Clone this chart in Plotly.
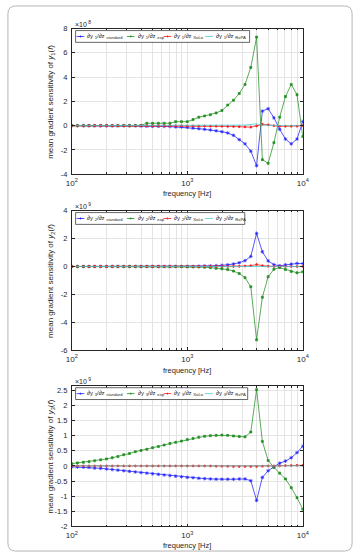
import plotly.graph_objects as go

W, H = 361, 558

# ---------------- data ----------------
freq = [100, 112, 126, 141, 158, 178, 200, 224, 251, 282,
        316, 355, 398, 447, 501, 562, 631, 708, 794, 891,
        1000, 1122, 1259, 1413, 1585, 1778, 1995, 2239, 2512, 2818,
        3162, 3548, 3981, 4467, 5012, 5623, 6310, 7079, 7943, 8913,
        10000]

# subplot 1 (x 1e8)
y1_standard = [0]*12 + [-0.03, -0.05, -0.05, -0.05, -0.06, -0.07, -0.1, -0.11, -0.13,
                        -0.2, -0.25, -0.3, -0.35, -0.42, -0.5, -0.6, -0.8, -1.15, -1.5, -2.1, -3.3,
                        1.2, 1.4, 0.65, -0.3, -1.1, -1.5, -1.1, 0.35]
y1_exp = [0]*12 + [0.02, 0.2, 0.2, 0.2, 0.2, 0.2, 0.33, 0.33, 0.33,
                   0.5, 0.7, 0.8, 0.9, 1.05, 1.25, 1.7, 2.1, 2.65, 3.4, 4.8, 7.3,
                   -2.8, -3.1, -1.4, 0.7, 2.4, 3.4, 2.55, -0.9]
y1_xolo = [0]*20 + [-0.02, -0.02, -0.03, -0.03, -0.04, -0.04, -0.05, -0.06, -0.07, -0.08, -0.1, -0.12,
                    -0.02, 0.12, 0.07, 0.0, -0.05, -0.05, -0.05, -0.04, 0.0]
y1_rxpa = [0]*29 + [0.02, 0.05, 0.1, 0.15, 0.05, 0.02, 0, 0, 0, 0, 0, 0]

# subplot 2 (x 1e9)
y2_standard = [0]*22 + [0.02, 0.03, 0.04, 0.06, 0.08, 0.12, 0.18, 0.27, 0.42, 0.72, 2.37,
                        1.05, 0.4, 0.13, 0.05, 0.12, 0.17, 0.22, 0.21]
y2_exp = [0]*20 + [-0.01, -0.02, -0.03, -0.05, -0.08, -0.13, -0.17, -0.22, -0.33, -0.5, -0.8,
                   -1.45, -5.25, -2.2, -0.73, -0.2, -0.08, -0.22, -0.35, -0.45, -0.38]
y2_xolo = [0]*29 + [0.01, 0.03, 0.06, 0.14, 0.06, 0.02, 0, 0, 0, 0, 0, 0]
y2_rxpa = [0]*31 + [0.01, 0.03, 0.01, 0, 0, 0, 0, 0, 0, 0]

# subplot 3 (x 1e9)
y3_standard = [-0.03, -0.035, -0.04, -0.05, -0.07, -0.08, -0.1, -0.12, -0.14, -0.16,
               -0.18, -0.2, -0.22, -0.24, -0.26, -0.28, -0.3, -0.32, -0.34, -0.36,
               -0.38, -0.39, -0.41, -0.42, -0.43, -0.44, -0.44, -0.44, -0.44, -0.43,
               -0.43, -0.49, -1.14, -0.38, -0.16, -0.03, 0.09, 0.16, 0.27, 0.44,
               0.65]
y3_exp = [0.075, 0.1, 0.12, 0.14, 0.17, 0.2, 0.23, 0.27, 0.31, 0.37,
          0.41, 0.47, 0.51, 0.55, 0.6, 0.64, 0.69, 0.74, 0.78, 0.82,
          0.87, 0.91, 0.95, 0.98, 1.0, 1.01, 1.02, 1.01, 0.99, 0.97,
          0.96, 1.12, 2.52, 0.81, 0.18, -0.05, -0.24, -0.43, -0.72, -1.05,
          -1.43]
y3_xolo = [0]*25 + [-0.01, -0.01, -0.015, -0.02, -0.02, -0.02, -0.02, -0.02, -0.01,
                    0, 0, 0.005, 0.01, 0.015, 0.02, 0.02]
y3_rxpa = [0]*41

series_names = ["standard", "exp", "XoLo", "RxPA"]
exponents = ["8", "9", "9"]
yticks_1 = [-4, -2, 0, 2, 4, 6, 8]
yticks_2 = [-6, -4, -2, 0, 2, 4]
yticks_3 = [-2, -1.5, -1, -0.5, 0, 0.5, 1, 1.5, 2, 2.5]
ytick_text_3 = ["-2", "-1.5", "-1", "-0.5", "0", "0.5", "1", "1.5", "2", "2.5"]
xtick_major = [100, 1000, 10000]
xtick_major_text = ["10<sup>2</sup>", "10<sup>3</sup>", "10<sup>4</sup>"]
xtick_minor = [200, 300, 400, 500, 600, 700, 800, 900,
               2000, 3000, 4000, 5000, 6000, 7000, 8000, 9000]

# ---------------- style ----------------
colors = ["#1f1fff", "#238f23", "#ff1a1a", "#3fcfcf"]
symbols = ["asterisk-open", "square", "circle", "circle"]
msizes = [3, 2, 2, 0.1]
FONT = "Liberation Sans, Arial, sans-serif"
TXT = "#262626"
GRID = "#e4e4e4"


def px(x):
    return x / W


def py(y):
    return 1 - y / H


panels = [
    dict(top=25, bot=173, data=[y1_standard, y1_exp, y1_xolo, y1_rxpa], yr=[-4, 8],
         yt=yticks_1, ytt=[str(v) for v in yticks_1], xtitle_y=193, idx="1"),
    dict(top=210, bot=352, data=[y2_standard, y2_exp, y2_xolo, y2_rxpa], yr=[-6, 4],
         yt=yticks_2, ytt=[str(v) for v in yticks_2], xtitle_y=373, idx="2"),
    dict(top=388, bot=531, data=[y3_standard, y3_exp, y3_xolo, y3_rxpa], yr=[-2, 2.65],
         yt=yticks_3, ytt=ytick_text_3, xtitle_y=550.5, idx="3"),
]

XL, XR = 68, 307

fig = go.Figure()
annotations = []
shapes = []

for k, p in enumerate(panels):
    ax = "" if k == 0 else str(k + 1)
    for s in range(4):
        fig.add_trace(go.Scatter(
            x=freq, y=p["data"][s], mode="lines+markers",
            line=dict(color=colors[s], width=0.75),
            marker=dict(color=colors[s], symbol=symbols[s], size=msizes[s],
                        line=dict(color=colors[s], width=0.7)),
            xaxis="x" + ax, yaxis="y" + ax, showlegend=False,
            name="∂y<sub>%s</sub>/∂z<sub>%s</sub>" % (p["idx"], series_names[s])))

    fig.layout["xaxis" + ax] = dict(
        type="log", range=[2, 4], domain=[px(XL), px(XR)], anchor="y" + ax,
        tickmode="array", tickvals=xtick_major, ticktext=xtick_major_text,
        ticks="inside", ticklen=3, tickcolor=TXT, tickwidth=0.6, ticklabelstandoff=1,
        minor=dict(tickmode="array", tickvals=xtick_minor, ticks="inside", ticklen=2,
                   tickcolor=TXT, tickwidth=0.5, showgrid=True, gridcolor=GRID,
                   gridwidth=0.6),
        showline=True, mirror="ticks", linecolor=TXT, linewidth=0.7,
        showgrid=True, gridcolor=GRID, gridwidth=0.6, zeroline=False,
        tickfont=dict(family=FONT, size=8, color=TXT), fixedrange=True)
    fig.layout["yaxis" + ax] = dict(
        range=p["yr"], domain=[py(p["bot"]), py(p["top"])], anchor="x" + ax,
        tickmode="array", tickvals=p["yt"], ticktext=p["ytt"],
        ticks="inside", ticklen=3, tickcolor=TXT, tickwidth=0.6, ticklabelstandoff=2,
        showline=True, mirror="ticks", linecolor=TXT, linewidth=0.7,
        showgrid=True, gridcolor=GRID, gridwidth=0.6, zeroline=False,
        tickfont=dict(family=FONT, size=7.5, color=TXT), fixedrange=True)

    # exponent label
    annotations.append(dict(
        text="×10<sup> %s</sup>" % exponents[k], x=px(XL + 1), y=py(p["top"] - 5),
        xref="paper", yref="paper", xanchor="left", yanchor="middle", showarrow=False,
        font=dict(family=FONT, size=7, color=TXT)))
    # x title
    annotations.append(dict(
        text="frequency [Hz]", x=px((XL + XR) / 2), y=py(p["xtitle_y"]),
        xref="paper", yref="paper", xanchor="center", yanchor="middle", showarrow=False,
        font=dict(family=FONT, size=7.5, color=TXT)))
    # y title
    annotations.append(dict(
        text="mean gradient sensitivity of <i>y</i><sub>%s</sub>(<i>f</i>)" % p["idx"],
        x=px(47), y=py((p["top"] + p["bot"]) / 2), textangle=-90,
        xref="paper", yref="paper", xanchor="center", yanchor="middle", showarrow=False,
        font=dict(family=FONT, size=8, color=TXT)))

    # legend box
    ly0, ly1 = p["top"] + 2, p["top"] + 14
    box_right = [252, 247, 250][k]
    shapes.append(dict(type="rect", xref="paper", yref="paper",
                       x0=px(72), x1=px(box_right), y0=py(ly1), y1=py(ly0),
                       line=dict(color=TXT, width=0.7), fillcolor="white", layer="above"))
    item_x = [73, 125, 163, 206]
    ym = (ly0 + ly1) / 2
    for s in range(4):
        lx = item_x[s]
        shapes.append(dict(type="line", xref="paper", yref="paper",
                           x0=px(lx), x1=px(lx + 8), y0=py(ym), y1=py(ym),
                           line=dict(color=colors[s], width=0.8), layer="above"))
        if s < 3:
            shapes.append(dict(type="circle", xref="paper", yref="paper",
                               x0=px(lx + 3.3), x1=px(lx + 4.7), y0=py(ym + 0.7), y1=py(ym - 0.7),
                               line=dict(color=colors[s], width=0.5), fillcolor=colors[s],
                               layer="above"))
        annotations.append(dict(
            text="∂y <sub>%s</sub>/∂z <sub>%s</sub>" % (p["idx"], series_names[s]),
            x=px(lx + 9), y=py(ym), xref="paper", yref="paper",
            xanchor="left", yanchor="middle", showarrow=False,
            font=dict(family=FONT, size=6, color=TXT)))

# outer rounded frame
x0, x1, y0, y1, r = px(2), px(358), py(2), py(556), 8
rx, ry = r / W, r / H
path = (f"M {x0+rx},{y0} L {x1-rx},{y0} Q {x1},{y0} {x1},{y0-ry} "
        f"L {x1},{y1+ry} Q {x1},{y1} {x1-rx},{y1} L {x0+rx},{y1} "
        f"Q {x0},{y1} {x0},{y1+ry} L {x0},{y0-ry} Q {x0},{y0} {x0+rx},{y0} Z")
shapes.append(dict(type="path", path=path, xref="paper", yref="paper",
                   line=dict(color="#b5b5b5", width=1)))

fig.update_layout(
    width=W, height=H, margin=dict(l=0, r=0, t=0, b=0),
    paper_bgcolor="white", plot_bgcolor="white",
    showlegend=False, annotations=annotations, shapes=shapes,
    font=dict(family=FONT, color=TXT))

fig.write_html("out.html", config={"displayModeBar": False})
